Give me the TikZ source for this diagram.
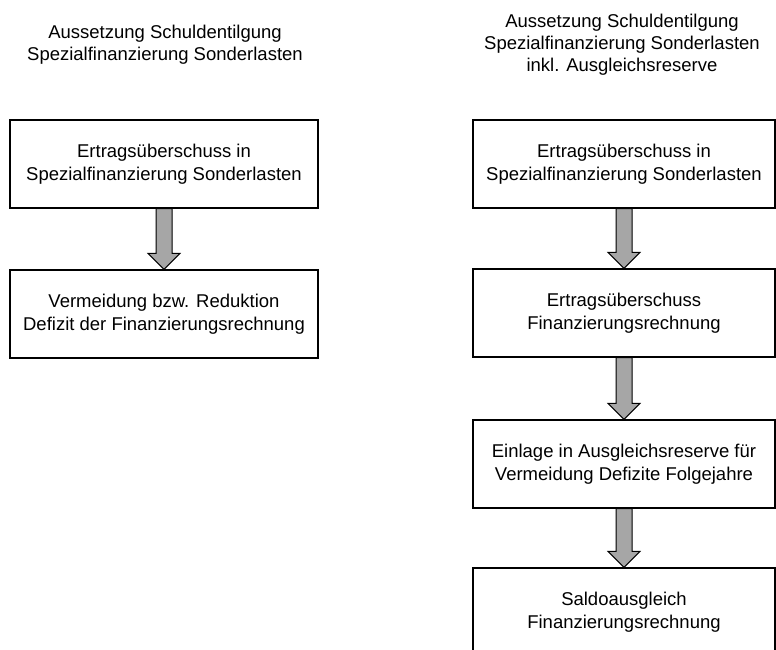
\documentclass[tikz,border=0pt]{standalone}
\usepackage{fontspec}
\setmainfont{Liberation Sans}
\usetikzlibrary{calc}

\definecolor{arrowgray}{RGB}{166,166,166}

% block arrow from the bottom of one box to the top of the next
\newcommand{\flowarrow}[2]{%
    \draw[flow] ($(#1.south)+(-8,0)$) -- ($(#2.north)+(-8,-16)$) -- ($(#2.north)+(-16,-16)$)
        -- (#2.north) -- ($(#2.north)+(16,-16)$) -- ($(#2.north)+(8,-16)$) -- ($(#1.south)+(8,0)$) -- cycle;}

\begin{document}
\begin{tikzpicture}[
        x=1pt, y=-1pt,
        stage/.style={draw, line width=1.2pt, minimum width=308pt, minimum height=88pt, align=center, inner sep=0pt, font=\fontsize{18.5}{23}\selectfont},
        heading/.style={align=center, font=\fontsize{18.5}{22}\selectfont},
        flow/.style={draw, fill=arrowgray, line width=1pt, line join=miter}
    ]
        \useasboundingbox (0,0) rectangle (776,650);

        % Left column
        \node[heading] (titleA) at (165, 45) {Aussetzung Schuldentilgung\\Spezialfinanzierung Sonderlasten};
        \node[stage] (surplusA) at (164, 164) {Ertragsüberschuss in\\Spezialfinanzierung Sonderlasten};
        \node[stage] (deficitA) at (164, 314) {Vermeidung bzw. Reduktion\\Defizit der Finanzierungsrechnung};

        \flowarrow{surplusA}{deficitA}

        % Right column
        \node[heading] (titleB) at (622, 45) {Aussetzung Schuldentilgung\\Spezialfinanzierung Sonderlasten\\inkl. Ausgleichsreserve};
        \node[stage, minimum width=302pt] (surplusB) at (624, 164) {Ertragsüberschuss in\\Spezialfinanzierung Sonderlasten};
        \node[stage, minimum width=302pt] (financeB) at (624, 313) {Ertragsüberschuss\\Finanzierungsrechnung};
        \node[stage, minimum width=302pt] (reserveB) at (624, 464) {Einlage in Ausgleichsreserve für\\Vermeidung Defizite Folgejahre};
        \node[stage, minimum width=302pt] (balanceB) at (624, 612) {Saldoausgleich\\Finanzierungsrechnung};

        \flowarrow{surplusB}{financeB}
        \flowarrow{financeB}{reserveB}
        \flowarrow{reserveB}{balanceB}

    \end{tikzpicture}
\end{document}
